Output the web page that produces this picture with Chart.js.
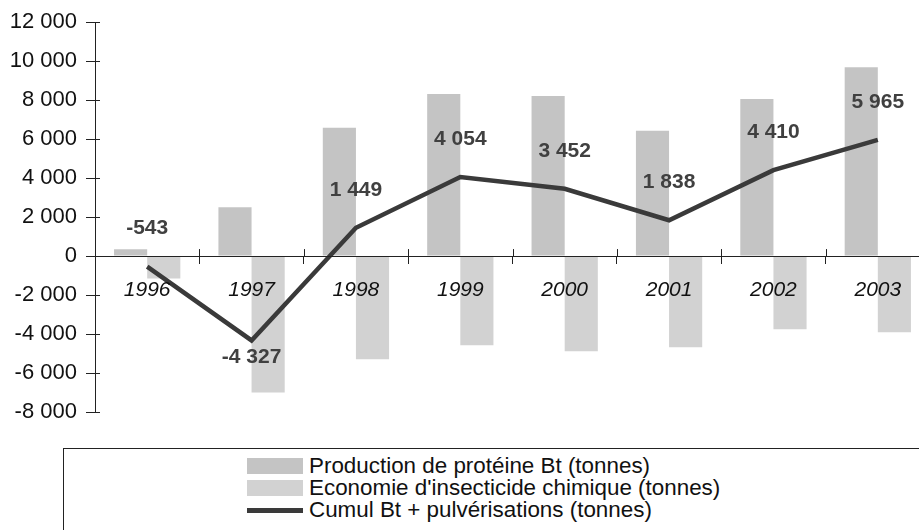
<!DOCTYPE html>
<html>
<head>
<meta charset="utf-8">
<script src="https://cdn.jsdelivr.net/npm/chart.js@4"></script>
<style>
  html, body { margin: 0; padding: 0; background: #fff; overflow: hidden; width: 919px; height: 530px; }
  #wrap { position: absolute; left: 0; top: 0; width: 940px; height: 440px; }
  #legend { position: absolute; left: 63px; top: 448px; width: 900px; height: 120px; border: 1px solid #222;
    font-family: "Liberation Sans", Arial, sans-serif; font-size: 22.4px; color: #111; }
  #legend .items { position: absolute; left: 183px; top: 6px; }
  #legend .row { display: flex; align-items: center; height: 22px; line-height: 22px; white-space: nowrap; }
  #legend .sw { width: 56px; margin-right: 6px; }
</style>
</head>
<body>
<div id="wrap"><canvas id="myChart"></canvas></div>
<div id="legend"><div class="items"></div></div>
<script>
var years = ['1996', '1997', '1998', '1999', '2000', '2001', '2002', '2003'];
var production = [350, 2500, 6580, 8310, 8210, 6430, 8060, 9690];
var economie = [-1150, -7000, -5290, -4575, -4880, -4675, -3760, -3910];
var cumul = [-543, -4327, 1449, 4054, 3452, 1838, 4410, 5965];

var FONT = '"Liberation Sans", Arial, sans-serif';

function fmt(v) {
  var s = Math.abs(Math.round(v)).toString().replace(/\B(?=(\d{3})+(?!\d))/g, ' ');
  return (v < 0 ? '-' : '') + s;
}

// petits traits qui traversent les axes + etiquettes de la courbe
var axisExtras = {
  id: 'axisExtras',
  afterDraw: function(chart) {
    var ctx = chart.ctx;
    var x = chart.scales.x, y = chart.scales.y;
    var x0 = y.right, y0 = y.getPixelForValue(0);
    ctx.save();
    ctx.strokeStyle = '#222';
    ctx.lineWidth = 1;
    ctx.beginPath();
    y.ticks.forEach(function(t, i) {
      var py = Math.round(y.getPixelForTick(i)) + 0.5;
      ctx.moveTo(x0, py);
      ctx.lineTo(x0 + 5, py);
    });
    var w = x.width / years.length;
    for (var i = 0; i <= years.length; i++) {
      var px = Math.round(x.left + i * w) + 0.5;
      ctx.moveTo(px, y0);
      ctx.lineTo(px, y0 - 7);
    }
    ctx.stroke();

    var meta = chart.getDatasetMeta(2);
    ctx.fillStyle = '#404040';
    ctx.font = 'bold 21px ' + FONT;
    ctx.textAlign = 'center';
    ctx.textBaseline = 'middle';
    meta.data.forEach(function(pt, i) {
      var v = cumul[i];
      var ly = v < -2000 ? pt.y + 17 : pt.y - 38;
      ctx.fillText(fmt(v), pt.x, ly);
    });
    ctx.restore();
  }
};

var ctx = document.getElementById('myChart').getContext('2d');
var myChart = new Chart(ctx, {
  type: 'bar',
  data: {
    labels: years,
    datasets: [{
      label: 'Production de protéine Bt (tonnes)',
      data: production,
      backgroundColor: '#c4c4c4',
      categoryPercentage: 0.635,
      barPercentage: 1,
      order: 2
    }, {
      label: "Economie d'insecticide chimique (tonnes)",
      data: economie,
      backgroundColor: '#d2d2d2',
      categoryPercentage: 0.635,
      barPercentage: 1,
      order: 2
    }, {
      type: 'line',
      label: 'Cumul Bt + pulvérisations (tonnes)',
      data: cumul,
      borderColor: '#3a3a3a',
      backgroundColor: '#3a3a3a',
      borderWidth: 4.5,
      pointRadius: 0,
      tension: 0,
      order: 1
    }]
  },
  options: {
    responsive: true,
    maintainAspectRatio: false,
    animation: false,
    layout: { padding: { top: 20, right: 10, bottom: 28, left: 0 } },
    plugins: {
      legend: { display: false },
      tooltip: { enabled: false }
    },
    scales: {
      x: {
        position: { y: 0 },
        afterFit: function(scale) { scale.height = 0; },
        grid: { display: true, drawOnChartArea: false, drawTicks: true, tickLength: 7, color: '#222', offset: true, z: 1 },
        border: { display: true, color: '#222', width: 1, z: 1 },
        ticks: { z: 1, padding: 14, color: '#111', font: { family: FONT, size: 21, style: 'italic' } }
      },
      y: {
        min: -8000,
        max: 12000,
        afterFit: function(scale) { scale.width = 95; },
        grid: { display: true, drawOnChartArea: false, drawTicks: true, tickLength: 9, color: '#222' },
        border: { display: true, color: '#222', width: 1 },
        ticks: {
          stepSize: 2000,
          padding: 9,
          color: '#111',
          font: { family: FONT, size: 22 },
          callback: function(v) { return fmt(v); }
        }
      }
    }
  },
  plugins: [axisExtras]
});

// legende HTML construite depuis les jeux de donnees
var items = document.querySelector('#legend .items');
myChart.data.datasets.forEach(function(ds) {
  var row = document.createElement('div');
  row.className = 'row';
  var sw = document.createElement('div');
  sw.className = 'sw';
  sw.style.background = ds.type === 'line' ? ds.borderColor : ds.backgroundColor;
  sw.style.height = ds.type === 'line' ? '5px' : '16px';
  var tx = document.createElement('span');
  tx.textContent = ds.label;
  row.appendChild(sw);
  row.appendChild(tx);
  items.appendChild(row);
});
</script>
</body>
</html>
